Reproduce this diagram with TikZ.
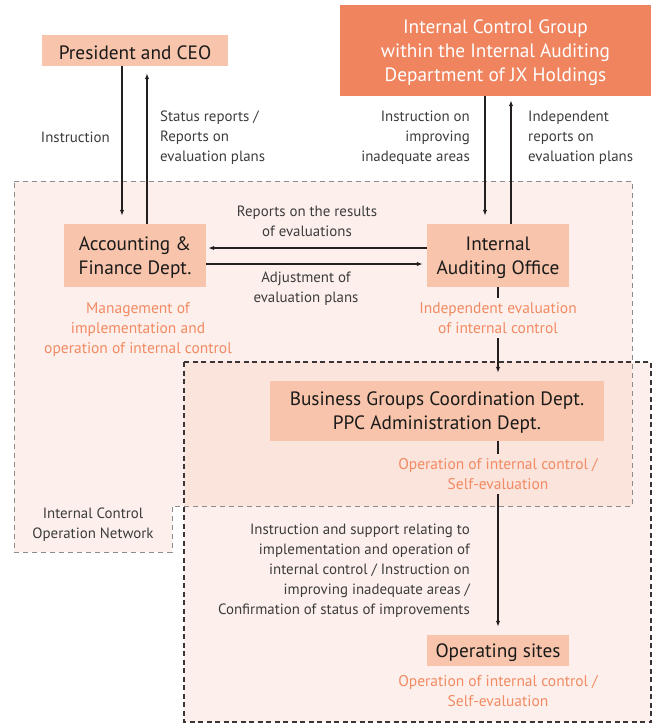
\documentclass[tikz,border=0pt]{standalone}
\usepackage{fontspec}
\setmainfont{PT Sans}
\usetikzlibrary{arrows.meta}

\definecolor{bglight}{HTML}{FDF0EC}
\definecolor{bgdeep}{HTML}{FBE4DC}
\definecolor{boxfill}{HTML}{F8C4AB}
\definecolor{groupfill}{HTML}{EF845F}
\definecolor{orangetext}{HTML}{F28A63}
\definecolor{labeltext}{HTML}{3C3C3C}
\definecolor{titletext}{HTML}{1A1A1A}
\definecolor{linecol}{HTML}{231F20}

\tikzset{
  unitbox/.style={fill=boxfill, inner sep=0pt},
  unittext/.style={text=titletext, align=center, inner sep=0pt, yshift=-2pt,
    font=\fontsize{19.3}{24}\selectfont},
  grouptext/.style={text=white, align=center, inner sep=0pt, yshift=-2pt,
    font=\fontsize{19.3}{24}\selectfont},
  lbl/.style={text=labeltext, inner sep=0pt, font=\fontsize{14.9}{20}\selectfont},
  role/.style={text=orangetext, align=center, inner sep=0pt, font=\fontsize{15.5}{20}\selectfont},
  arr/.style={draw=linecol, line width=1.2pt, -{Latex[length=6pt,width=4.5pt]}},
  grayborder/.style={draw=gray!90, line width=1pt, dash pattern=on 5pt off 4pt},
  darkborder/.style={draw=linecol!90, line width=1.3pt, dash pattern=on 5pt off 3.5pt},
}

\begin{document}
\begin{tikzpicture}[x=1pt,y=-1pt]
\useasboundingbox (0,0) rectangle (657,724);

% network and site areas
\fill[bglight] (14,181) -- (632,181) -- (632,506) -- (172,506) -- (172,552) -- (14,552) -- cycle;
\fill[bglight] (184,362) rectangle (651,722);
\fill[bgdeep] (184,362) rectangle (632,506);
\draw[grayborder] (14,181) -- (632,181) -- (632,506) -- (172,506) -- (172,552) -- (14,552) -- cycle;
\draw[darkborder] (184,362) rectangle (651,722);

% units
\node[unitbox, minimum width=186pt, minimum height=31pt,
  label={[unittext]center:President and CEO}] (ceo) at (135,50.5) {};
\node[fill=groupfill, inner sep=0pt, minimum width=311pt, minimum height=91pt,
  label={[grouptext]center:{Internal Control Group\\within the Internal Auditing\\Department of JX Holdings}}]
  (icg) at (495.5,50.5) {};
\node[unitbox, minimum width=142pt, minimum height=63pt,
  label={[unittext]center:{Accounting \&\\Finance Dept.}}] (afd) at (135,255.5) {};
\node[unitbox, minimum width=142pt, minimum height=63pt,
  label={[unittext]center:{Internal\\Auditing Office}}] (iao) at (498,255.5) {};
\node[unitbox, minimum width=334pt, minimum height=60pt,
  label={[unittext]center:{Business Groups Coordination Dept.\\PPC Administration Dept.}}] (bgc) at (437,411) {};
\node[unitbox, minimum width=142pt, minimum height=31pt,
  label={[unittext]center:Operating sites}] (ops) at (498,650.5) {};

% vertical guides for the links to the group
\coordinate (dn) at (485,0);
\coordinate (up) at (511,0);

% links
\draw[arr] ([xshift=-13pt]ceo.south) -- ([xshift=-13pt,yshift=8pt]afd.north);
\draw[arr] ([xshift=12pt]afd.north) -- ([xshift=12pt,yshift=-7pt]ceo.south);
\draw[arr] (icg.south -| dn) -- ([yshift=8pt]iao.north -| dn);
\draw[arr] (iao.north -| up) -- ([yshift=-4pt]icg.south -| up);
\draw[arr] ([yshift=7.5pt]iao.west) -- ([xshift=2pt,yshift=7.5pt]afd.east);
\draw[arr] ([yshift=-8.5pt]afd.east) -- ([xshift=-4pt,yshift=-8.5pt]iao.west);
\draw[arr] (iao.south) -- ([yshift=8pt]bgc.north -| iao.south);
\draw[arr] (bgc.south -| ops.north) -- ([yshift=8pt]ops.north);

% roles (set over the links)
\node[role, fill=bglight, inner ysep=4pt] (iaorole) at (498,318) {Independent evaluation\\of internal control};
\node[role, fill=bgdeep, inner ysep=4pt] (bgcrole) at (498,474) {Operation of internal control /\\Self-evaluation};
\node[role] (opsrole) at (498,691) {Operation of internal control /\\Self-evaluation};
\node[role] (afdrole) at (138,330) {Management of\\implementation and\\operation of internal control};

% link labels
\node[lbl, anchor=east] (l1) at (110,137) {Instruction};
\node[lbl, anchor=west, align=left] (l2) at (160,138) {Status reports /\\Reports on\\evaluation plans};
\node[lbl, anchor=east, align=right] (l3) at (470,138) {Instruction on\\improving\\inadequate areas};
\node[lbl, anchor=west, align=left] (l4) at (528,138) {Independent\\reports on\\evaluation plans};
\node[lbl, align=center] (l5) at (307,221) {Reports on the results\\of evaluations};
\node[lbl, align=center] (l6) at (306,289) {Adjustment of\\evaluation plans};
\node[lbl, anchor=east, align=right] (l7) at (470,571)
  {Instruction and support relating to\\implementation and operation of\\internal control / Instruction on\\improving inadequate areas /\\Confirmation of status of improvements};
\node[lbl, align=center] (net) at (93,525) {Internal Control\\Operation Network};
\end{tikzpicture}
\end{document}
